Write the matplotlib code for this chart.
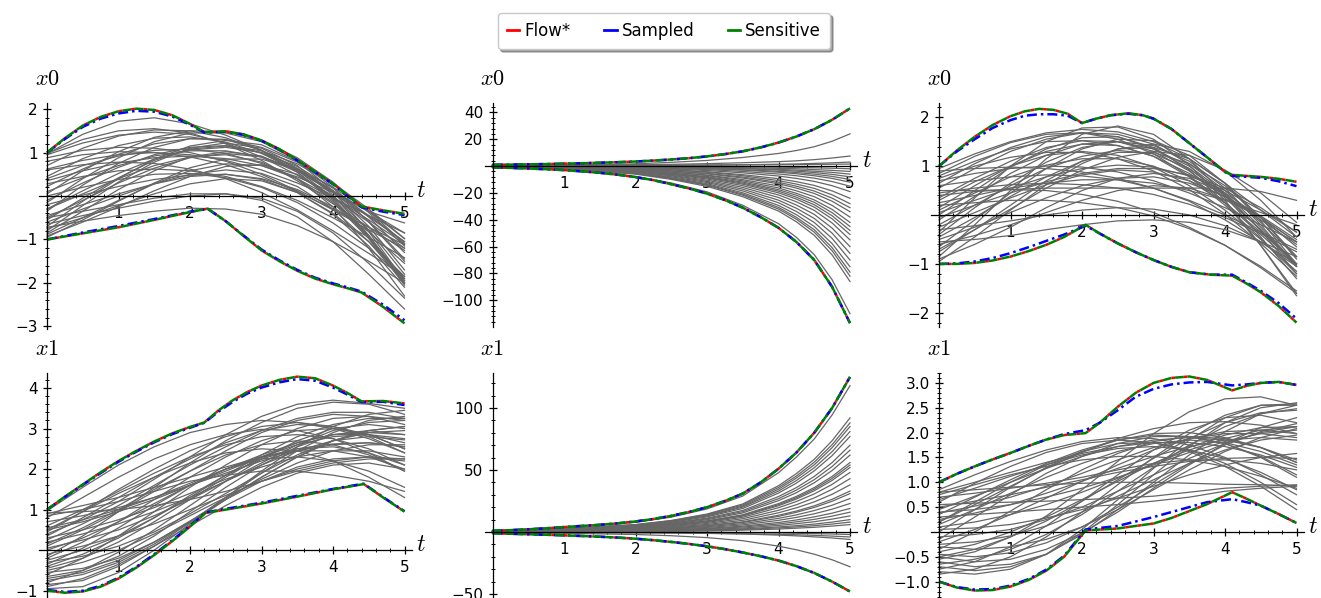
"""Reachable-set bounds (Flow*, sampled, sensitive) over simulated traces, 2x3 grid."""
import matplotlib

matplotlib.use("Agg")
import matplotlib.pyplot as plt
from matplotlib.lines import Line2D
from matplotlib.ticker import FixedLocator, MultipleLocator

plt.rcParams["mathtext.fontset"] = "cm"
plt.rcParams["font.family"] = "DejaVu Sans"

W_PX, H_PX = 1321, 598

# ---- time grids -----------------------------------------------------------
t_half = [0.0, 0.5, 1.0, 1.5, 2.0, 2.5, 3.0, 3.5, 4.0, 4.5, 5.0]
t_exp = [0.0, 1.0, 2.0, 2.5, 3.0, 3.5, 4.0, 4.25, 4.5, 4.75, 5.0]
t_quarter = [0.0, 0.25, 0.5, 0.75, 1.0, 1.25, 1.5, 1.75, 2.0, 2.25, 2.5, 2.75,
             3.0, 3.25, 3.5, 3.75, 4.0, 4.25, 4.5, 4.75, 5.0]

# ---- panel 1: x0, left system ------------------------------------------------
p1_up_t = [0, .25, .5, .75, 1.0, 1.25, 1.5, 1.75, 2.0, 2.2, 2.5, 2.75, 3.0, 3.25, 3.5, 3.75, 4.0, 4.2, 4.4, 4.7, 5.0]
p1_flow_up = [1.0, 1.33, 1.62, 1.82, 1.95, 2.01, 1.98, 1.86, 1.66, 1.47, 1.49, 1.42, 1.28, 1.08, 0.83, 0.56, 0.28, 0.02, -0.24, -0.33, -0.41]
p1_samp_up = [1.0, 1.31, 1.59, 1.78, 1.9, 1.96, 1.94, 1.83, 1.64, 1.46, 1.48, 1.41, 1.27, 1.07, 0.82, 0.55, 0.27, 0.0, -0.26, -0.36, -0.44]
p1_lo_t = [0, .5, 1.0, 1.5, 2.0, 2.25, 2.5, 2.75, 3.0, 3.25, 3.5, 3.75, 4.0, 4.2, 4.4, 4.7, 5.0]
p1_flow_lo = [-1.0, -0.86, -0.72, -0.55, -0.37, -0.29, -0.58, -0.92, -1.25, -1.5, -1.72, -1.9, -2.03, -2.12, -2.22, -2.55, -2.93]
p1_samp_lo = [-1.0, -0.84, -0.69, -0.53, -0.36, -0.3, -0.58, -0.91, -1.23, -1.48, -1.7, -1.88, -2.01, -2.1, -2.2, -2.5, -2.86]
p1_traces = [
    [0.97, 1.42, 1.72, 1.80, 1.66, 1.40, 1.05, 0.62, 0.12, -0.36, -0.62],
    [0.95, 1.22, 1.40, 1.47, 1.42, 1.22, 0.90, 0.48, -0.02, -0.55, -1.10],
    [0.88, 1.05, 1.12, 1.10, 1.00, 0.80, 0.50, 0.12, -0.32, -0.78, -1.20],
    [0.70, 1.10, 1.38, 1.52, 1.50, 1.34, 1.05, 0.64, 0.12, -0.45, -1.05],
    [0.62, 0.82, 0.95, 1.00, 0.95, 0.82, 0.60, 0.30, -0.05, -0.45, -0.85],
    [0.98, 1.30, 1.50, 1.55, 1.45, 1.20, 0.82, 0.35, -0.18, -0.72, -1.25],
    [0.80, 0.95, 1.02, 1.00, 0.90, 0.72, 0.45, 0.10, -0.30, -0.72, -1.12],
    [0.45, 0.86, 1.16, 1.33, 1.36, 1.24, 0.98, 0.58, 0.08, -0.48, -1.05],
    [0.35, 0.58, 0.76, 0.88, 0.92, 0.86, 0.70, 0.44, 0.08, -0.36, -0.85],
    [0.22, 0.62, 0.96, 1.20, 1.32, 1.30, 1.12, 0.78, 0.30, -0.30, -0.98],
    [0.10, 0.42, 0.70, 0.92, 1.04, 1.04, 0.90, 0.62, 0.20, -0.34, -0.98],
    [0.28, 0.45, 0.58, 0.62, 0.58, 0.45, 0.22, -0.10, -0.50, -0.95, -1.42],
    [0.05, 0.58, 1.02, 1.35, 1.50, 1.48, 1.28, 0.88, 0.32, -0.38, -1.15],
    [0.40, 0.70, 0.92, 1.05, 1.08, 0.98, 0.75, 0.40, -0.05, -0.60, -1.20],
    [-0.10, 0.30, 0.66, 0.95, 1.12, 1.16, 1.04, 0.74, 0.28, -0.34, -1.10],
    [-0.30, 0.12, 0.52, 0.85, 1.06, 1.12, 1.00, 0.68, 0.18, -0.48, -1.30],
    [-0.50, -0.10, 0.30, 0.64, 0.88, 0.98, 0.90, 0.60, 0.10, -0.58, -1.45],
    [-0.20, 0.02, 0.22, 0.38, 0.48, 0.50, 0.40, 0.15, -0.25, -0.82, -1.55],
    [-0.45, -0.20, 0.05, 0.28, 0.45, 0.50, 0.38, 0.08, -0.40, -1.05, -1.85],
    [-0.15, 0.40, 0.88, 1.25, 1.45, 1.45, 1.25, 0.82, 0.20, -0.60, -1.50],
    [-0.35, 0.25, 0.75, 1.12, 1.32, 1.30, 1.05, 0.55, -0.12, -0.95, -1.90],
    [0.00, 0.20, 0.38, 0.50, 0.52, 0.42, 0.20, -0.15, -0.62, -1.20, -1.90],
    [-0.95, -0.55, -0.12, 0.30, 0.65, 0.85, 0.85, 0.60, 0.08, -0.70, -1.70],
    [-0.85, -0.35, 0.15, 0.58, 0.90, 1.02, 0.92, 0.55, -0.08, -0.95, -2.00],
    [-0.75, -0.50, -0.22, 0.05, 0.28, 0.40, 0.35, 0.08, -0.42, -1.15, -2.10],
    [-0.65, -0.45, -0.28, -0.12, 0.00, 0.05, -0.05, -0.35, -0.85, -1.55, -2.35],
    [-0.92, -0.60, -0.25, 0.12, 0.45, 0.68, 0.72, 0.50, 0.00, -0.78, -1.80],
    [-0.55, -0.05, 0.42, 0.82, 1.08, 1.15, 1.00, 0.60, -0.05, -0.92, -1.95],
    [-0.80, -0.22, 0.32, 0.78, 1.10, 1.22, 1.10, 0.70, 0.02, -0.90, -2.00],
    [-0.60, -0.30, 0.00, 0.28, 0.50, 0.60, 0.52, 0.22, -0.30, -1.05, -2.00],
    [-0.70, -0.12, 0.40, 0.85, 1.15, 1.28, 1.18, 0.80, 0.12, -0.82, -1.95],
    [-0.88, -0.50, -0.10, 0.28, 0.58, 0.74, 0.70, 0.40, -0.15, -0.98, -2.05],
    [-0.30, 0.05, 0.40, 0.70, 0.90, 0.95, 0.78, 0.40, -0.25, -1.20, -2.30],
    [-0.50, -0.35, -0.20, -0.05, 0.05, 0.05, -0.10, -0.48, -1.05, -1.80, -2.60],
    [0.60, 0.72, 0.78, 0.75, 0.62, 0.40, 0.08, -0.32, -0.80, -1.32, -1.85],
    [-0.72, -0.58, -0.45, -0.35, -0.28, -0.30, -0.42, -0.68, -1.05, -1.50, -2.00],
]

# ---- panel 4: x1, left system ------------------------------------------------
p4_up_t = [0, .25, .5, .75, 1.0, 1.25, 1.5, 1.75, 2.0, 2.2, 2.4, 2.6, 2.8, 3.0, 3.25, 3.5, 3.75, 4.0, 4.2, 4.4, 4.7, 5.0]
p4_flow_up = [1.0, 1.32, 1.62, 1.92, 2.2, 2.45, 2.68, 2.88, 3.04, 3.15, 3.45, 3.7, 3.9, 4.06, 4.2, 4.28, 4.24, 4.06, 3.88, 3.67, 3.68, 3.62]
p4_samp_up = [1.0, 1.31, 1.61, 1.9, 2.18, 2.43, 2.66, 2.86, 3.02, 3.14, 3.42, 3.66, 3.86, 4.01, 4.14, 4.22, 4.18, 4.01, 3.84, 3.65, 3.66, 3.58]
p4_lo_t = [0, .25, .5, .75, 1.0, 1.25, 1.5, 1.75, 2.0, 2.22, 2.5, 3.0, 3.5, 4.0, 4.43, 4.7, 5.0]
p4_flow_lo = [-1.0, -1.05, -1.02, -0.9, -0.7, -0.43, -0.12, 0.22, 0.58, 0.92, 1.0, 1.15, 1.32, 1.5, 1.63, 1.3, 0.95]
p4_samp_lo = [-0.98, -1.03, -1.0, -0.88, -0.68, -0.41, -0.1, 0.24, 0.6, 0.93, 1.02, 1.17, 1.34, 1.51, 1.64, 1.31, 0.96]
p4_traces = [
    [0.97, 1.55, 2.10, 2.55, 2.90, 3.10, 3.20, 3.15, 3.00, 2.75, 2.40],
    [0.90, 1.10, 1.30, 1.55, 1.80, 2.05, 2.30, 2.50, 2.62, 2.65, 2.55],
    [0.92, 0.95, 1.00, 1.10, 1.25, 1.45, 1.70, 1.95, 2.15, 2.25, 2.25],
    [0.60, 1.00, 1.45, 1.90, 2.30, 2.60, 2.80, 2.85, 2.75, 2.50, 2.10],
    [0.50, 0.70, 0.95, 1.25, 1.60, 1.95, 2.30, 2.60, 2.80, 2.85, 2.75],
    [0.35, 0.80, 1.30, 1.80, 2.25, 2.65, 2.95, 3.10, 3.05, 2.85, 2.50],
    [0.20, 0.40, 0.65, 0.95, 1.30, 1.70, 2.10, 2.45, 2.70, 2.80, 2.72],
    [0.15, 0.55, 1.00, 1.50, 1.95, 2.35, 2.60, 2.70, 2.60, 2.35, 1.95],
    [0.05, 0.25, 0.50, 0.85, 1.25, 1.70, 2.15, 2.60, 2.95, 3.15, 3.20],
    [-0.10, 0.10, 0.35, 0.65, 1.00, 1.35, 1.70, 2.00, 2.20, 2.30, 2.25],
    [-0.20, 0.20, 0.70, 1.25, 1.80, 2.30, 2.70, 2.95, 3.00, 2.85, 2.50],
    [-0.30, -0.15, 0.10, 0.45, 0.90, 1.40, 1.90, 2.35, 2.70, 2.90, 2.95],
    [-0.45, -0.20, 0.20, 0.70, 1.25, 1.80, 2.30, 2.65, 2.85, 2.85, 2.65],
    [-0.55, -0.45, -0.20, 0.20, 0.70, 1.25, 1.80, 2.30, 2.70, 2.95, 3.05],
    [-0.65, -0.50, -0.15, 0.35, 0.95, 1.55, 2.10, 2.55, 2.85, 2.95, 2.85],
    [-0.75, -0.60, -0.30, 0.15, 0.70, 1.30, 1.90, 2.45, 2.90, 3.20, 3.30],
    [-0.85, -0.75, -0.40, 0.10, 0.68, 1.30, 1.95, 2.55, 3.05, 3.35, 3.45],
    [-0.95, -0.90, -0.55, 0.00, 0.65, 1.25, 1.80, 2.30, 2.70, 2.95, 3.05],
    [-0.90, -0.70, -0.35, 0.10, 0.60, 1.10, 1.55, 1.90, 2.10, 2.15, 2.00],
    [-0.40, -0.10, 0.30, 0.80, 1.35, 1.85, 2.25, 2.50, 2.55, 2.40, 2.10],
    [0.70, 0.85, 1.05, 1.30, 1.60, 1.90, 2.20, 2.45, 2.60, 2.65, 2.55],
    [0.45, 0.95, 1.50, 2.00, 2.45, 2.80, 3.05, 3.15, 3.05, 2.80, 2.40],
    [0.10, 0.50, 0.95, 1.45, 1.95, 2.45, 2.90, 3.20, 3.35, 3.30, 3.10],
    [-0.15, 0.35, 0.95, 1.55, 2.15, 2.70, 3.15, 3.50, 3.65, 3.60, 3.35],
    [-0.60, -0.20, 0.35, 0.95, 1.55, 2.10, 2.60, 3.00, 3.25, 3.30, 3.20],
    [0.30, 0.50, 0.75, 1.05, 1.40, 1.75, 2.05, 2.30, 2.45, 2.45, 2.30],
    [-0.80, -0.50, -0.05, 0.50, 1.10, 1.70, 2.25, 2.70, 3.00, 3.10, 3.00],
    [-0.50, -0.30, 0.00, 0.40, 0.85, 1.30, 1.75, 2.15, 2.45, 2.60, 2.60],
    [0.80, 1.30, 1.80, 2.25, 2.60, 2.85, 2.98, 2.95, 2.75, 2.40, 1.95],
    [0.55, 0.75, 1.00, 1.30, 1.65, 2.00, 2.35, 2.65, 2.85, 2.90, 2.85],
    [-0.25, 0.00, 0.35, 0.80, 1.30, 1.85, 2.35, 2.80, 3.10, 3.25, 3.25],
    [0.00, 0.30, 0.70, 1.15, 1.60, 2.00, 2.30, 2.45, 2.45, 2.30, 2.00],
    [-0.70, -0.55, -0.25, 0.20, 0.72, 1.25, 1.70, 2.05, 2.25, 2.30, 2.20],
    [0.25, 0.65, 1.10, 1.60, 2.10, 2.55, 2.95, 3.25, 3.40, 3.40, 3.25],
    [0.50, 0.95, 1.40, 1.80, 2.15, 2.40, 2.50, 2.45, 2.20, 1.80, 1.30],
    [-0.35, 0.05, 0.55, 1.10, 1.60, 2.00, 2.25, 2.30, 2.20, 1.95, 1.55],
    [0.85, 1.00, 1.20, 1.45, 1.70, 1.85, 1.95, 1.95, 1.85, 1.70, 1.45],
    [0.40, 0.75, 1.20, 1.75, 2.30, 2.85, 3.30, 3.60, 3.70, 3.62, 3.50],
]

# ---- panel 2: x0, middle system (exponential fan) ---------------------------
p2_flow_up = [1.0, 1.1, 1.3, 1.5, 1.8, 2.1, 2.5, 2.9, 3.4, 4.1, 4.9, 5.9, 7.2, 8.9, 11.0, 13.9, 17.5, 22.0, 27.5, 34.5, 43.0]
p2_flow_lo = [-1.0, -1.35, -1.8, -2.35, -3.0, -3.9, -5.0, -6.4, -8.2, -10.5, -13.5, -16.7, -20.5, -25.3, -31.0, -38.0, -46.0, -56.5, -70.0, -90.0, -117.0]
p2_traces = [
    [0.2, 0.6, 1.7, 2.8, 4.2, 6.4, 9.4, 11.6, 14.4, 18.5, 24.0],
    [0.5, 0.7, 1.0, 1.3, 1.8, 2.5, 3.3, 3.9, 4.8, 6.0, 7.5],
    [-0.3, 0.0, 0.3, 0.5, 0.7, 1.0, 1.4, 1.6, 2.0, 2.4, 3.0],
    [0.8, 0.7, 0.7, 0.75, 0.8, 0.9, 1.0, 1.1, 1.2, 1.35, 1.5],
    [0.6, 0.4, 0.2, 0.0, -0.2, -0.5, -0.8, -1.0, -1.3, -1.6, -2.0],
    [0.3, 0.1, -0.2, -0.5, -0.8, -1.2, -1.7, -2.0, -2.6, -3.2, -4.0],
    [-0.5, -0.6, -0.8, -1.0, -1.3, -1.8, -2.5, -3.0, -3.8, -4.7, -6.0],
    [0.9, 0.5, 0.0, -0.4, -1.0, -1.8, -3.0, -3.8, -4.8, -6.2, -8.0],
    [-0.2, -0.4, -0.8, -1.2, -1.8, -2.7, -3.9, -4.8, -6.0, -7.7, -10.0],
    [0.4, 0.0, -0.6, -1.1, -1.9, -3.0, -4.6, -5.7, -7.2, -9.2, -12.0],
    [-0.7, -0.8, -1.3, -1.8, -2.6, -4.0, -5.9, -7.2, -9.0, -11.5, -15.0],
    [0.1, -0.4, -1.2, -2.1, -3.3, -5.0, -7.4, -9.2, -11.4, -14.6, -19.0],
    [-0.4, -0.7, -1.7, -2.8, -4.2, -6.4, -9.4, -11.6, -14.4, -18.5, -24.0],
    [0.6, -0.1, -1.4, -2.7, -4.6, -7.2, -10.8, -13.4, -16.6, -21.4, -28.0],
    [-0.9, -1.1, -2.2, -3.6, -5.4, -8.2, -12.1, -15.0, -18.6, -23.9, -31.0],
    [0.2, -0.5, -2.0, -3.6, -5.8, -8.9, -13.2, -16.4, -20.4, -26.2, -34.0],
    [-0.3, -1.0, -2.7, -4.4, -6.7, -10.1, -14.8, -18.4, -22.8, -29.3, -38.0],
    [0.5, -0.4, -2.4, -4.4, -7.1, -11.0, -16.3, -20.3, -25.2, -32.3, -42.0],
    [-0.6, -1.2, -3.2, -5.2, -7.9, -11.9, -17.6, -21.7, -27.0, -34.7, -45.0],
    [0.0, -1.0, -3.2, -5.4, -8.4, -12.7, -18.7, -23.2, -28.8, -37.0, -48.0],
    [-0.8, -1.4, -3.6, -5.9, -8.9, -13.5, -19.9, -24.6, -30.6, -39.3, -51.0],
    [0.3, -0.9, -3.7, -6.3, -9.6, -14.6, -21.5, -26.6, -33.0, -42.4, -55.0],
    [-0.1, -1.4, -4.2, -6.9, -10.5, -15.9, -23.4, -29.0, -36.0, -46.2, -60.0],
    [0.7, -1.0, -4.3, -7.3, -11.4, -17.2, -25.4, -31.4, -39.0, -50.0, -65.0],
    [-0.5, -1.8, -4.9, -8.0, -12.2, -18.5, -27.3, -33.8, -42.0, -53.9, -70.0],
    [0.1, -1.6, -5.1, -8.6, -13.1, -19.9, -29.3, -36.2, -45.0, -57.8, -75.0],
    [-0.7, -2.0, -5.5, -9.1, -13.8, -20.9, -30.8, -38.2, -47.4, -60.8, -79.0],
    [0.4, -1.6, -5.6, -9.4, -14.3, -21.7, -32.0, -39.6, -49.2, -63.1, -82.0],
    [-0.3, -2.1, -6.0, -9.9, -15.1, -22.8, -33.5, -41.5, -51.6, -66.2, -86.0],
    [-0.6, -2.8, -7.7, -12.6, -19.2, -29.2, -42.9, -53.1, -66.0, -84.7, -110.0],
]

# ---- panel 5: x1, middle system ----------------------------------------------
p5_flow_up = [1.0, 1.5, 2.2, 3.0, 4.0, 4.9, 5.8, 7.0, 8.5, 10.5, 13.0, 16.2, 20.0, 25.0, 31.0, 40.0, 51.0, 64.0, 80.0, 100.0, 125.0]
p5_flow_lo = [-1.0, -1.4, -1.8, -2.2, -2.7, -3.2, -3.8, -4.5, -5.4, -6.6, -8.0, -9.6, -11.5, -13.8, -16.5, -19.5, -23.0, -27.5, -33.0, -40.0, -48.0]
p5_traces = [
    [0.8, 3.6, 7.8, 12.0, 18.6, 29.0, 47.8, 60.4, 75.0, 94.4, 118.0],
    [0.2, 2.6, 6.0, 9.3, 14.5, 22.6, 37.3, 47.1, 58.6, 73.6, 92.0],
    [0.6, 2.7, 5.9, 9.1, 14.0, 21.8, 35.9, 45.1, 56.3, 70.4, 88.0],
    [-0.3, 2.2, 5.4, 8.5, 13.4, 20.9, 34.5, 43.5, 54.2, 68.0, 85.0],
    [0.4, 2.5, 5.5, 8.4, 12.9, 20.1, 33.0, 41.5, 51.8, 64.8, 81.0],
    [-0.6, 1.9, 5.0, 7.8, 12.2, 19.0, 31.4, 39.4, 49.3, 61.6, 77.0],
    [0.1, 2.2, 4.7, 7.2, 11.2, 17.4, 28.6, 35.8, 44.8, 56.0, 70.0],
    [0.7, 2.3, 4.6, 6.9, 10.6, 16.4, 26.9, 33.8, 42.2, 52.8, 66.0],
    [-0.2, 1.8, 4.2, 6.4, 9.9, 15.4, 25.3, 31.7, 39.7, 49.6, 62.0],
    [0.3, 1.9, 3.9, 5.9, 9.0, 13.9, 22.9, 28.7, 35.8, 44.8, 56.0],
    [-0.8, 1.4, 3.6, 5.6, 8.6, 13.4, 22.0, 27.6, 34.6, 43.2, 54.0],
    [0.5, 1.8, 3.6, 5.4, 8.3, 12.9, 21.2, 26.6, 33.3, 41.6, 52.0],
    [-0.4, 1.4, 3.2, 5.0, 7.7, 11.9, 19.6, 24.6, 30.7, 38.4, 48.0],
    [0.9, 1.6, 2.9, 4.5, 6.9, 10.7, 17.5, 22.0, 27.5, 34.4, 43.0],
    [0.0, 1.2, 2.6, 4.0, 6.1, 9.4, 15.5, 19.5, 24.3, 30.4, 38.0],
    [-0.5, 0.9, 2.2, 3.4, 5.3, 8.2, 13.5, 16.9, 21.1, 26.4, 33.0],
    [0.6, 1.2, 2.1, 3.2, 5.0, 7.7, 12.6, 15.9, 19.8, 24.8, 31.0],
    [-0.1, 0.8, 1.8, 2.8, 4.3, 6.7, 11.0, 13.8, 17.3, 21.6, 27.0],
    [0.3, 0.8, 1.6, 2.4, 3.7, 5.7, 9.4, 11.8, 14.7, 18.4, 23.0],
    [-0.7, 0.2, 1.1, 1.8, 3.0, 4.7, 7.7, 9.7, 12.2, 15.2, 19.0],
    [0.8, 0.9, 1.2, 1.7, 2.6, 4.0, 6.5, 8.2, 10.2, 12.8, 16.0],
    [0.2, 0.5, 0.9, 1.4, 2.1, 3.2, 5.3, 6.7, 8.3, 10.4, 13.0],
    [-0.4, 0.1, 0.6, 1.0, 1.6, 2.5, 4.1, 5.1, 6.4, 8.0, 10.0],
    [0.5, 0.5, 0.7, 0.9, 1.3, 2.0, 3.3, 4.1, 5.1, 6.4, 8.0],
    [-0.2, 0.0, 0.3, 0.6, 0.9, 1.5, 2.4, 3.1, 3.8, 4.8, 6.0],
    [0.3, 0.2, 0.1, 0.0, -0.2, -0.4, -0.8, -1.0, -1.3, -1.6, -2.0],
    [-0.5, -0.5, -0.7, -0.8, -1.0, -1.4, -1.9, -2.2, -2.7, -3.3, -4.0],
    [0.1, -0.1, -0.4, -0.7, -1.1, -1.6, -2.5, -3.1, -3.9, -4.8, -6.0],
    [-0.3, -1.0, -2.0, -3.0, -4.5, -7.0, -11.4, -14.3, -17.9, -22.4, -28.0],
]

# ---- panel 3: x0, right system -----------------------------------------------
p3_up_t = [0, .25, .5, .75, 1.0, 1.2, 1.4, 1.6, 1.8, 2.0, 2.2, 2.4, 2.65, 2.85, 3.0, 3.25, 3.5, 3.75, 4.0, 4.1, 4.5, 4.75, 5.0]
p3_flow_up = [1.0, 1.32, 1.6, 1.84, 2.02, 2.12, 2.17, 2.15, 2.07, 1.88, 1.97, 2.04, 2.08, 2.04, 1.97, 1.76, 1.47, 1.18, 0.88, 0.82, 0.78, 0.74, 0.68]
p3_samp_up = [1.0, 1.3, 1.55, 1.78, 1.94, 2.03, 2.06, 2.06, 2.03, 1.88, 1.97, 2.04, 2.07, 2.04, 1.97, 1.76, 1.47, 1.18, 0.88, 0.8, 0.76, 0.69, 0.59]
p3_lo_t = [0, .25, .5, .75, 1.0, 1.25, 1.5, 1.75, 2.05, 2.25, 2.5, 2.75, 3.0, 3.25, 3.5, 3.8, 4.1, 4.3, 4.5, 4.75, 5.0]
p3_flow_lo = [-1.0, -1.0, -0.98, -0.93, -0.85, -0.74, -0.61, -0.45, -0.2, -0.38, -0.58, -0.76, -0.92, -1.06, -1.17, -1.22, -1.24, -1.4, -1.58, -1.86, -2.2]
p3_samp_lo = [-1.0, -0.99, -0.95, -0.88, -0.78, -0.66, -0.53, -0.4, -0.22, -0.38, -0.58, -0.76, -0.92, -1.06, -1.17, -1.22, -1.22, -1.38, -1.55, -1.8, -2.12]
p3_traces = [
    [0.95, 1.25, 1.50, 1.68, 1.75, 1.70, 1.50, 1.15, 0.65, 0.10, -0.45],
    [0.90, 0.95, 0.98, 0.95, 0.88, 0.75, 0.55, 0.30, 0.00, -0.35, -0.70],
    [0.80, 1.10, 1.35, 1.50, 1.52, 1.42, 1.20, 0.85, 0.40, -0.10, -0.60],
    [0.70, 0.85, 0.95, 1.00, 0.98, 0.88, 0.70, 0.45, 0.15, -0.20, -0.55],
    [0.55, 0.95, 1.30, 1.55, 1.68, 1.65, 1.45, 1.05, 0.50, -0.15, -0.85],
    [0.45, 0.55, 0.62, 0.65, 0.62, 0.55, 0.42, 0.22, -0.05, -0.38, -0.75],
    [0.35, 0.75, 1.10, 1.38, 1.52, 1.50, 1.30, 0.90, 0.35, -0.30, -1.00],
    [0.25, 0.40, 0.55, 0.65, 0.72, 0.72, 0.65, 0.50, 0.30, 0.05, -0.20],
    [0.15, 0.60, 1.00, 1.30, 1.45, 1.42, 1.20, 0.78, 0.20, -0.48, -1.20],
    [0.05, 0.30, 0.55, 0.78, 0.95, 1.02, 0.98, 0.80, 0.50, 0.10, -0.35],
    [-0.10, 0.38, 0.85, 1.22, 1.45, 1.50, 1.35, 1.00, 0.45, -0.25, -1.00],
    [-0.25, 0.05, 0.35, 0.62, 0.82, 0.92, 0.88, 0.70, 0.38, -0.05, -0.55],
    [-0.40, 0.15, 0.65, 1.08, 1.38, 1.50, 1.42, 1.10, 0.55, -0.20, -1.05],
    [-0.50, -0.25, 0.05, 0.35, 0.60, 0.75, 0.78, 0.65, 0.38, -0.02, -0.50],
    [-0.65, -0.10, 0.45, 0.95, 1.35, 1.55, 1.52, 1.22, 0.65, -0.12, -1.00],
    [-0.75, -0.30, 0.20, 0.70, 1.10, 1.35, 1.38, 1.15, 0.65, -0.05, -0.90],
    [-0.85, -0.20, 0.50, 1.15, 1.65, 1.82, 1.65, 1.15, 0.40, -0.45, -1.30],
    [-0.90, -0.60, -0.25, 0.15, 0.50, 0.75, 0.85, 0.75, 0.45, -0.05, -0.65],
    [-0.55, -0.50, -0.42, -0.30, -0.20, -0.12, -0.10, -0.15, -0.30, -0.55, -0.85],
    [-0.30, -0.22, -0.12, 0.00, 0.10, 0.15, 0.12, 0.00, -0.22, -0.55, -1.00],
    [0.60, 0.70, 0.78, 0.82, 0.80, 0.72, 0.55, 0.28, -0.10, -0.55, -1.05],
    [0.30, 0.68, 1.00, 1.22, 1.30, 1.22, 0.98, 0.60, 0.10, -0.50, -1.15],
    [-0.05, 0.20, 0.45, 0.68, 0.85, 0.95, 0.95, 0.82, 0.55, 0.15, -0.35],
    [0.50, 0.50, 0.52, 0.55, 0.55, 0.55, 0.55, 0.55, 0.55, 0.48, 0.30],
    [-0.70, -0.30, 0.12, 0.55, 0.92, 1.18, 1.30, 1.22, 0.92, 0.45, -0.15],
    [-0.95, -0.45, 0.10, 0.62, 1.05, 1.35, 1.45, 1.30, 0.90, 0.30, -0.45],
    [0.85, 1.20, 1.48, 1.65, 1.68, 1.55, 1.25, 0.80, 0.25, -0.40, -1.05],
    [0.10, 0.45, 0.78, 1.02, 1.15, 1.15, 1.00, 0.70, 0.25, -0.35, -1.00],
    [-0.45, -0.05, 0.38, 0.78, 1.10, 1.28, 1.28, 1.05, 0.60, -0.05, -0.85],
    [0.20, 0.25, 0.30, 0.30, 0.25, 0.15, -0.02, -0.28, -0.62, -1.05, -1.55],
    [0.40, 0.48, 0.52, 0.50, 0.42, 0.28, 0.05, -0.25, -0.62, -1.08, -1.60],
    [-0.20, 0.20, 0.60, 0.95, 1.20, 1.32, 1.25, 0.95, 0.42, -0.32, -1.20],
    [0.65, 1.05, 1.38, 1.60, 1.68, 1.60, 1.35, 0.95, 0.40, -0.30, -1.05],
    [-0.60, -0.42, -0.20, 0.05, 0.30, 0.50, 0.60, 0.55, 0.32, -0.05, -0.55],
    [0.00, 0.50, 0.98, 1.35, 1.58, 1.60, 1.38, 0.92, 0.25, -0.62, -1.65],
    [-0.35, 0.35, 1.00, 1.50, 1.78, 1.80, 1.55, 1.02, 0.30, -0.62, -1.60],
    [0.75, 1.00, 1.18, 1.28, 1.28, 1.15, 0.90, 0.52, 0.02, -0.58, -1.25],
]

# ---- panel 6: x1, right system -----------------------------------------------
p6_up_t = [0, .25, .5, .75, 1.0, 1.25, 1.5, 1.75, 2.05, 2.25, 2.5, 2.75, 3.0, 3.25, 3.5, 3.75, 4.1, 4.3, 4.5, 4.75, 5.0]
p6_flow_up = [1.0, 1.17, 1.32, 1.46, 1.59, 1.73, 1.86, 1.95, 1.99, 2.2, 2.52, 2.8, 3.0, 3.1, 3.13, 3.06, 2.85, 2.94, 3.0, 3.02, 2.96]
p6_samp_up = [1.0, 1.17, 1.32, 1.46, 1.59, 1.73, 1.86, 1.97, 2.05, 2.2, 2.45, 2.72, 2.88, 2.97, 3.01, 3.02, 2.95, 2.97, 3.0, 3.02, 2.96]
p6_lo_t = [0, .25, .5, .75, 1.0, 1.25, 1.5, 1.75, 2.05, 2.5, 3.0, 3.25, 3.5, 3.75, 4.1, 4.3, 4.5, 4.75, 5.0]
p6_flow_lo = [-1.0, -1.12, -1.18, -1.17, -1.1, -0.97, -0.78, -0.5, 0.03, 0.07, 0.17, 0.28, 0.42, 0.56, 0.8, 0.67, 0.53, 0.36, 0.18]
p6_samp_lo = [-1.0, -1.11, -1.16, -1.15, -1.08, -0.95, -0.76, -0.48, 0.05, 0.12, 0.3, 0.4, 0.5, 0.6, 0.66, 0.6, 0.53, 0.36, 0.18]
p6_traces = [
    [0.85, 1.15, 1.42, 1.65, 1.82, 1.90, 1.88, 1.75, 1.50, 1.15, 0.75],
    [0.80, 0.85, 0.90, 0.95, 0.98, 1.00, 1.00, 0.98, 0.96, 0.95, 0.93],
    [0.75, 0.95, 1.15, 1.32, 1.45, 1.52, 1.52, 1.45, 1.32, 1.12, 0.88],
    [0.60, 0.98, 1.32, 1.60, 1.78, 1.85, 1.80, 1.62, 1.32, 0.92, 0.45],
    [0.50, 0.62, 0.75, 0.90, 1.05, 1.20, 1.32, 1.42, 1.48, 1.50, 1.48],
    [0.40, 0.45, 0.55, 0.70, 0.88, 1.10, 1.35, 1.60, 1.82, 1.98, 2.05],
    [0.35, 0.70, 1.05, 1.38, 1.65, 1.85, 1.95, 1.92, 1.78, 1.52, 1.15],
    [0.30, 0.35, 0.40, 0.45, 0.50, 0.55, 0.62, 0.70, 0.82, 0.88, 0.92],
    [0.20, 0.55, 0.92, 1.28, 1.60, 1.88, 2.08, 2.20, 2.22, 2.15, 1.98],
    [0.10, 0.20, 0.35, 0.55, 0.80, 1.08, 1.38, 1.65, 1.88, 2.05, 2.12],
    [0.00, 0.45, 0.90, 1.30, 1.62, 1.85, 1.98, 2.00, 1.90, 1.70, 1.40],
    [-0.10, -0.05, 0.05, 0.25, 0.50, 0.82, 1.15, 1.48, 1.78, 2.00, 2.12],
    [-0.20, 0.05, 0.35, 0.68, 1.02, 1.35, 1.65, 1.88, 2.02, 2.05, 1.98],
    [-0.30, -0.35, -0.30, -0.15, 0.10, 0.45, 0.85, 1.25, 1.62, 1.90, 2.08],
    [-0.40, -0.25, 0.00, 0.30, 0.65, 1.02, 1.38, 1.70, 1.95, 2.10, 2.12],
    [-0.50, -0.60, -0.55, -0.35, -0.02, 0.40, 0.88, 1.35, 1.78, 2.10, 2.30],
    [-0.60, -0.70, -0.65, -0.45, -0.05, 0.45, 1.00, 1.55, 2.02, 2.38, 2.55],
    [-0.70, -0.78, -0.70, -0.45, -0.02, 0.55, 1.15, 1.72, 2.20, 2.50, 2.60],
    [-0.80, -0.85, -0.75, -0.45, 0.05, 0.65, 1.28, 1.85, 2.30, 2.55, 2.58],
    [-0.85, -0.75, -0.50, -0.10, 0.40, 0.95, 1.50, 1.98, 2.35, 2.55, 2.55],
    [-0.50, -0.35, -0.10, 0.22, 0.62, 1.05, 1.48, 1.88, 2.20, 2.40, 2.45],
    [-0.65, -0.55, -0.35, -0.05, 0.35, 0.82, 1.30, 1.75, 2.12, 2.38, 2.48],
    [0.80, 1.00, 1.20, 1.40, 1.58, 1.72, 1.80, 1.80, 1.72, 1.55, 1.30],
    [0.45, 0.72, 1.00, 1.28, 1.52, 1.72, 1.85, 1.90, 1.85, 1.70, 1.45],
    [0.25, 0.38, 0.55, 0.78, 1.02, 1.28, 1.52, 1.72, 1.85, 1.90, 1.85],
    [-0.25, -0.20, -0.08, 0.12, 0.40, 0.72, 1.05, 1.38, 1.65, 1.85, 1.95],
    [0.55, 0.58, 0.60, 0.62, 0.65, 0.68, 0.72, 0.80, 0.88, 0.92, 0.95],
    [0.70, 0.78, 0.88, 0.98, 1.10, 1.25, 1.38, 1.45, 1.45, 1.38, 1.25],
    [-0.35, 0.00, 0.42, 0.85, 1.25, 1.58, 1.82, 1.92, 1.88, 1.70, 1.40],
    [0.15, 0.45, 0.78, 1.10, 1.38, 1.62, 1.78, 1.85, 1.80, 1.62, 1.35],
    [-0.45, -0.50, -0.42, -0.22, 0.10, 0.50, 0.95, 1.38, 1.75, 2.02, 2.18],
    [0.38, 0.52, 0.70, 0.92, 1.18, 1.45, 1.70, 1.88, 1.98, 1.98, 1.90],
    [-0.75, -0.60, -0.30, 0.12, 0.62, 1.15, 1.65, 2.05, 2.30, 2.35, 2.20],
    [0.65, 0.88, 1.12, 1.35, 1.55, 1.68, 1.72, 1.65, 1.48, 1.20, 0.85],
    [0.05, 0.08, 0.15, 0.28, 0.45, 0.68, 0.92, 1.15, 1.35, 1.50, 1.58],
    [-0.15, 0.30, 0.75, 1.18, 1.52, 1.78, 1.92, 1.92, 1.78, 1.50, 1.10],
    [0.20, 0.60, 1.00, 1.35, 1.62, 1.78, 1.80, 1.65, 1.38, 1.00, 0.55],
    [-0.55, -0.40, -0.10, 0.32, 0.85, 1.42, 1.98, 2.42, 2.68, 2.72, 2.55],
]

# tick values shown on each y axis (0 is left unlabelled, as in Sage)
p1_yticks = [-3, -2, -1, 1, 2]
p2_yticks = [-100, -80, -60, -40, -20, 20, 40]
p3_yticks = [-2, -1, 1, 2]
p4_yticks = [-1, 1, 2, 3, 4]
p5_yticks = [-50, 50, 100]
p6_yticks = [-1.0, -0.5, 0.5, 1.0, 1.5, 2.0, 2.5, 3.0]
x_ticks = [1, 2, 3, 4, 5]

GRAY = "#666666"
LW_B = 1.8


def make_axes(fig, spine_x, top, bottom, ylim):
    # geometry in pixels: t=0 sits at spine_x, 71.5 px per time unit
    unit = 71.5
    x0, x1 = -0.107, 5.1
    left = spine_x + x0 * unit
    width = (x1 - x0) * unit
    ax = fig.add_axes([left / W_PX, 1 - bottom / H_PX, width / W_PX, (bottom - top) / H_PX])
    ax.set_xlim(x0, x1)
    ax.set_ylim(*ylim)
    return ax


def style_axes(ax, yticks, yminor, var):
    for side in ("top", "right"):
        ax.spines[side].set_visible(False)
    ax.spines["left"].set_position(("data", 0))
    ax.spines["bottom"].set_position(("data", 0))
    for side in ("left", "bottom"):
        ax.spines[side].set_linewidth(0.9)
        ax.spines[side].set_zorder(5)
    ax.xaxis.set_major_locator(FixedLocator(x_ticks))
    ax.xaxis.set_minor_locator(MultipleLocator(0.2))
    ax.yaxis.set_major_locator(FixedLocator(yticks))
    ax.yaxis.set_minor_locator(MultipleLocator(yminor))
    ax.tick_params(which="major", direction="inout", length=6, width=0.9, labelsize=11)
    ax.tick_params(which="minor", direction="inout", length=3, width=0.7)
    ax.tick_params(axis="x", which="major", pad=4)
    ax.tick_params(axis="y", which="major", pad=3.5)
    ax.annotate("$t$", xy=(1, 0), xycoords=("axes fraction", "data"),
                xytext=(7, 4.5), textcoords="offset points", fontsize=17,
                ha="center", va="center", annotation_clip=False)
    ax.annotate(f"${var}$", xy=(0, 1), xycoords=("data", "axes fraction"),
                xytext=(0, 17.5), textcoords="offset points", fontsize=16,
                ha="center", va="center", annotation_clip=False)


def draw_bounds(ax, t_up, flow_up, samp_up, t_lo, flow_lo, samp_lo):
    # Sensitive bounds coincide with Flow* here, so they reuse the same values;
    # the red dashes are offset so they show in the gaps of the green ones
    for t, flow, samp in ((t_up, flow_up, samp_up), (t_lo, flow_lo, samp_lo)):
        ax.plot(t, flow, color="red", lw=LW_B, ls=(1.5, (1.5, 3.5)), zorder=3)
        ax.plot(t, samp, color="blue", lw=LW_B, ls=(0, (4, 1.6, 1, 1.6)), zorder=3)
        ax.plot(t, flow, color="green", lw=LW_B, ls=(0, (3.5, 1.5)), zorder=4)


def draw_traces(ax, t, traces):
    for y in traces:
        ax.plot(t, y, color=GRAY, lw=0.9, zorder=2)


def main():
    fig = plt.figure(figsize=(W_PX / 100, H_PX / 100), dpi=100)

    panels = [
        # spine_x, top, bottom, ylim, yticks, yminor, label, traces(t, data), bounds
        (47, 103, 329, (-3.06, 2.14), p1_yticks, 0.2, "x0", (t_half, p1_traces),
         (p1_up_t, p1_flow_up, p1_samp_up, p1_lo_t, p1_flow_lo, p1_samp_lo)),
        (492.5, 103, 327, (-119.9, 47.0), p2_yticks, 4, "x0", (t_exp, p2_traces),
         (t_quarter, p2_flow_up, p2_flow_up, t_quarter, p2_flow_lo, p2_flow_lo)),
        (939, 103, 327, (-2.29, 2.29), p3_yticks, 0.2, "x0", (t_half, p3_traces),
         (p3_up_t, p3_flow_up, p3_samp_up, p3_lo_t, p3_flow_lo, p3_samp_lo)),
        (47, 373, 598, (-1.18, 4.37), p4_yticks, 0.2, "x1", (t_half, p4_traces),
         (p4_up_t, p4_flow_up, p4_samp_up, p4_lo_t, p4_flow_lo, p4_samp_lo)),
        (492.5, 373, 598, (-53.2, 128.2), p5_yticks, 10, "x1", (t_exp, p5_traces),
         (t_quarter, p5_flow_up, p5_flow_up, t_quarter, p5_flow_lo, p5_flow_lo)),
        (939, 373, 598, (-1.33, 3.2), p6_yticks, 0.1, "x1", (t_half, p6_traces),
         (p6_up_t, p6_flow_up, p6_samp_up, p6_lo_t, p6_flow_lo, p6_samp_lo)),
    ]

    for spine_x, top, bottom, ylim, yticks, yminor, var, (t, traces), bounds in panels:
        ax = make_axes(fig, spine_x, top, bottom, ylim)
        draw_traces(ax, t, traces)
        draw_bounds(ax, *bounds)
        style_axes(ax, yticks, yminor, var)

    handles = [Line2D([], [], color="red", lw=2),
               Line2D([], [], color="blue", lw=2),
               Line2D([], [], color="green", lw=2)]
    fig.legend(handles, ["Flow*", "Sampled", "Sensitive"], loc="center",
               bbox_to_anchor=(664 / W_PX, 1 - 31 / H_PX), ncol=3, fontsize=12,
               handlelength=0.75, handletextpad=0.3, columnspacing=2.0,
               borderpad=0.55, fancybox=True, shadow=True, framealpha=1,
               edgecolor="#c8c8c8")

    fig.savefig("out.png", dpi=100)
    plt.close(fig)


if __name__ == "__main__":
    main()
